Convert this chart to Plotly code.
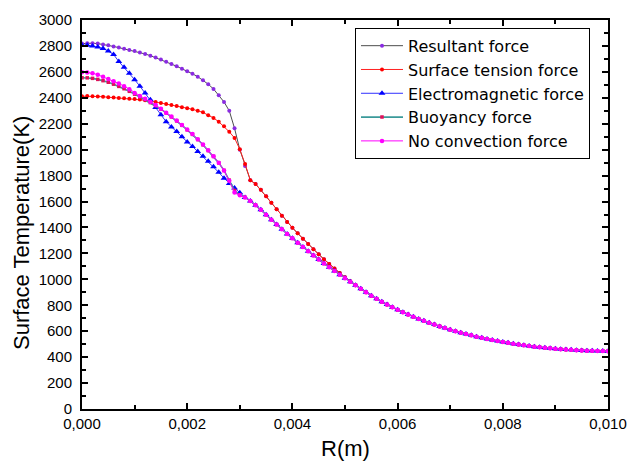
import plotly.graph_objects as go

# x positions (m), 0 .. 0.010 every 0.0001
r_values = [round(i * 0.0001, 4) for i in range(101)]

# --- heads (values that differ between series) ---
resultant_head = [2818, 2820, 2821, 2818, 2812, 2805, 2796, 2787, 2778, 2769,
                  2760, 2750, 2738, 2725, 2710, 2695, 2678, 2660, 2643, 2625,
                  2605, 2585, 2563, 2535, 2505, 2468, 2420, 2368, 2300, 2165,
                  2000, 1875, 1765]
surface_head = [2412, 2413, 2412, 2410, 2408, 2405, 2402, 2399, 2396, 2393,
                2390, 2386, 2381, 2375, 2368, 2360, 2352, 2344, 2336, 2328,
                2320, 2311, 2301, 2288, 2265, 2245, 2215, 2180, 2138, 2090,
                2003, 1890, 1765]
em_head = [2805, 2806, 2800, 2792, 2780, 2760, 2734, 2680, 2635, 2590,
           2540, 2490, 2437, 2385, 2325, 2270, 2215, 2175, 2140, 2100,
           2060, 2025, 1985, 1950, 1910, 1868, 1825, 1780, 1740, 1705,
           1668]
buoy_head = [2555, 2554, 2550, 2542, 2532, 2520, 2505, 2488, 2470, 2450,
             2428, 2405, 2385, 2363, 2340, 2312, 2283, 2253, 2222, 2188,
             2153, 2118, 2078, 2038, 1993, 1948, 1898, 1840, 1765, 1685,
             1652]
noconv_head = [2597, 2596, 2590, 2578, 2562, 2545, 2528, 2510, 2490, 2465,
               2437, 2413, 2392, 2370, 2345, 2315, 2285, 2255, 2225, 2190,
               2155, 2120, 2080, 2040, 1995, 1950, 1900, 1840, 1760, 1670,
               1648]

# --- shared middle parts ---
upper_mid = [1735, 1690, 1640, 1590, 1540, 1490, 1443, 1398, 1355, 1313,
             1272, 1232, 1193, 1155, 1118, 1083, 1049, 1016, 985, 955]   # 0.0033..0.0052
lower_mid = [1632, 1605, 1572, 1536, 1498, 1460, 1422, 1386, 1350, 1316,
             1282, 1249, 1216, 1184, 1153, 1122, 1093, 1064, 1036, 1008,
             982, 955]                                                  # 0.0031..0.0052

# --- common tail 0.0053..0.0100 ---
common_tail = [927, 900, 874, 850, 827, 805, 785, 765,
               746, 728, 711, 695, 680, 665, 651, 637, 624, 612,
               600, 589, 578, 568, 558, 549, 540, 532, 524, 517,
               510, 503, 497, 491, 486, 481, 476, 472, 468, 464,
               461, 458, 456, 454, 452, 450, 449, 448, 447, 446]

resultant = resultant_head + upper_mid + common_tail
surface = surface_head + upper_mid + common_tail
electromagnetic = em_head + lower_mid + common_tail
buoyancy = buoy_head + lower_mid + common_tail
no_convection = noconv_head + lower_mid + common_tail

series_names = ["Resultant force", "Surface tension force", "Electromagnetic force",
                "Buoyancy force", "No convection force"]

x_ticks = [0, 0.002, 0.004, 0.006, 0.008, 0.010]
x_tick_labels = ["0,000", "0,002", "0,004", "0,006", "0,008", "0,010"]
y_ticks = list(range(0, 3001, 200))

x_title = "R(m)"
y_title = "Surface Temperature(K)"

FONT = "Arial, Liberation Sans"

fig = go.Figure()

fig.add_trace(go.Scatter(x=r_values, y=resultant, name=series_names[0], mode="lines+markers",
                         line=dict(color="#4d4d4d", width=1),
                         marker=dict(symbol="circle", size=4, color="#8a2be2")))
fig.add_trace(go.Scatter(x=r_values, y=surface, name=series_names[1], mode="lines+markers",
                         line=dict(color="#ff2020", width=1),
                         marker=dict(symbol="circle", size=4, color="#ff0000")))
fig.add_trace(go.Scatter(x=r_values, y=electromagnetic, name=series_names[2], mode="lines+markers",
                         line=dict(color="#3030ff", width=1),
                         marker=dict(symbol="triangle-up", size=6, color="#0000ff")))
fig.add_trace(go.Scatter(x=r_values, y=buoyancy, name=series_names[3], mode="lines+markers",
                         line=dict(color="#3a9a9a", width=1.6),
                         marker=dict(symbol="square", size=3.5, color="#e0105a")))
fig.add_trace(go.Scatter(x=r_values, y=no_convection, name=series_names[4], mode="lines+markers",
                         line=dict(color="#ff00ff", width=1),
                         marker=dict(symbol="circle", size=4.5, color="#ff00ff")))

axis_common = dict(showline=True, linecolor="black", linewidth=2, mirror="ticks",
                   ticks="inside", ticklen=6, tickwidth=1.5, tickcolor="black",
                   showgrid=False, zeroline=False, automargin=False,
                   tickfont=dict(family=FONT, size=15, color="black"))

fig.update_xaxes(range=[0, 0.010], tickvals=x_ticks, ticktext=x_tick_labels,
                 minor=dict(ticks="inside", ticklen=4, tickcolor="black", dtick=0.001, tick0=0, showgrid=False),
                 **axis_common)
fig.update_yaxes(range=[0, 3000], tickvals=y_ticks, ticklabelstandoff=5,
                 minor=dict(ticks="inside", ticklen=4, tickcolor="black", dtick=100, tick0=0, showgrid=False),
                 **axis_common)

fig.add_annotation(text=x_title, xref="paper", yref="paper", x=0.5, y=-0.101,
                   xanchor="center", yanchor="middle", showarrow=False,
                   font=dict(family=FONT, size=22, color="black"))
fig.add_annotation(text=y_title, xref="paper", yref="paper", x=-0.114, y=0.4526,
                   xanchor="center", yanchor="middle", showarrow=False, textangle=-90,
                   font=dict(family=FONT, size=22, color="black"))

fig.update_layout(
    width=628, height=465,
    margin=dict(l=82, r=20, t=20, b=56),
    plot_bgcolor="white", paper_bgcolor="white",
    font=dict(family=FONT, color="black"),
    legend=dict(x=0.519, y=0.980, xanchor="left", yanchor="top",
                bgcolor="white", bordercolor="black", borderwidth=1,
                font=dict(family="DejaVu Sans", size=16, color="black"),
                tracegroupgap=0, itemwidth=42),
    showlegend=True,
)

fig.write_html("out.html",
               config={"displayModeBar": False},
               post_script="document.body.style.margin='0';document.body.style.overflow='hidden';")
